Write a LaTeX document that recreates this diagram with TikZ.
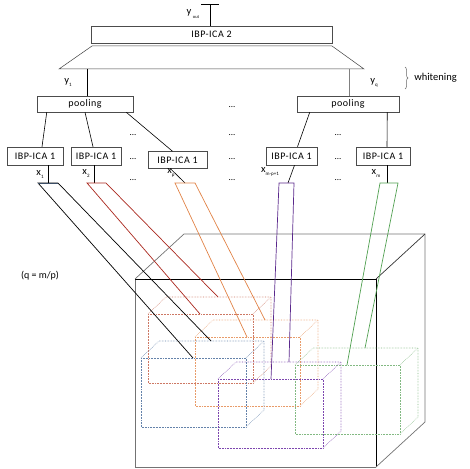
\documentclass[tikz,border=0pt]{standalone}
\usepackage{fontspec}
\setmainfont{Carlito}
\newfontfamily\lblfont[LetterSpace=5]{Carlito}
\usetikzlibrary{decorations.pathreplacing}
\newcommand{\mylab}[2]{#1\raisebox{-3pt}{\fontsize{5}{5}\selectfont #2}}
\definecolor{rbred}{RGB}{170,40,30}
\definecolor{rborange}{RGB}{225,130,70}
\definecolor{rbpurple}{RGB}{90,40,140}
\definecolor{rbgreen}{RGB}{80,160,80}
\definecolor{bxblue}{RGB}{100,130,170}
\definecolor{bxred}{RGB}{205,120,100}
\definecolor{bxorange}{RGB}{232,155,105}
\definecolor{bxpurple}{RGB}{125,70,175}
\definecolor{bxgreen}{RGB}{130,185,130}
\newcommand{\dotcub}[3]{%
 \draw[dotbox,#1] (#2,#3) rectangle ++(105,69);
 \draw[dotbox,#1] (#2,#3) -- ++(18,-17) -- ++(105,0) -- ++(0,69) -- ++(-18,17);
 \draw[dotbox,#1] (#2+105,#3) -- ++(18,-17);
}
\begin{document}
\begin{tikzpicture}[x=1pt,y=-1pt,line width=0.6pt,
 box/.style={draw=black!70,line width=0.5pt,inner sep=0pt,font=\lblfont\fontsize{10}{10}\selectfont},
 lab/.style={inner sep=0pt,font=\fontsize{10.5}{10}\selectfont},
 dots/.style={inner sep=0pt,font=\fontsize{9}{10}\selectfont},
 dotbox/.style={densely dotted,line width=0.55pt},
 rib/.style={line width=0.7pt},
 conn/.style={line width=0.6pt,black}]
\useasboundingbox (0,0) rectangle (470,468);
% big cube
\draw[black!55,line width=0.7pt] (135,279) -- (135,467) -- (376,467);
\draw[black,line width=0.7pt] (135,279) -- (376,279) -- (376,467);
\draw[black!55,line width=0.7pt] (135,279) -- (184,234) -- (425,234) -- (425,422) -- (376,467);
\draw[black!80,line width=0.7pt] (376,279) -- (425,234);
% dotted boxes
\dotcub{bxred}{148}{314}
\dotcub{bxorange}{195}{337}
\dotcub{bxblue}{141}{358}
\dotcub{bxgreen}{295}{365}
\dotcub{bxpurple}{218}{379}
% top
\node[box,minimum width=241pt,minimum height=17pt] (ica2) at (211.5,34.5) {IBP-ICA 2};
\coordinate (yout) at (210,4);
\draw[conn] (ica2.north -| yout) -- (yout);
\draw[conn] ([xshift=-9pt]yout) -- ([xshift=9pt]yout);
\node[lab] (ylab) at (189,13) {y};
\node[inner sep=0pt,font=\fontsize{4.5}{4.5}\selectfont] (ysub) at (196,17) {out};
\coordinate (t1) at (92,46);
\coordinate (t2) at (332,46);
\coordinate (t3) at (364,69);
\coordinate (t4) at (59,69);
\draw[black!75,line width=0.5pt] (t1) -- (t2) -- (t3) -- (t4) -- cycle;
% pooling
\node[box,minimum width=96pt,minimum height=16pt] (pool1) at (85,104) {pooling};
\node[box,minimum width=102pt,minimum height=16pt] (pool2) at (348,104) {pooling};
\draw[conn] (t4 -| pool1.north) ++(2,0) coordinate (a1) -- (a1 |- pool1.north);
\coordinate (a2) at (349,69);
\draw[black!50,line width=0.5pt] (a2) -- (a2 |- pool2.north);
\node[lab] (y1) at (68,82) {\mylab{y}{1}};
\node[lab] (yq) at (374,83) {\mylab{y}{q}};
\draw[black!60,line width=0.5pt,decorate,decoration={brace,amplitude=3pt}] (405,67) -- (405,89);
\node[inner sep=0pt,anchor=west,font=\fontsize{10.5}{11}\selectfont] (wh) at (414,78) {whitening};
% ICA 1 boxes
\node[box,minimum width=56pt,minimum height=18pt] (ia) at (35,156) {IBP-ICA 1};
\node[box,minimum width=50pt,minimum height=18pt] (ib) at (96,156) {IBP-ICA 1};
\node[box,minimum width=59pt,minimum height=17pt] (ic) at (177.5,160) {IBP-ICA 1};
\node[box,minimum width=51pt,minimum height=18pt] (id) at (291.5,156) {IBP-ICA 1};
\node[box,minimum width=54pt,minimum height=18pt] (ie) at (383,156) {IBP-ICA 1};
\draw[conn] ([xshift=10pt]pool1.south west) -- ([xshift=7pt]ia.north);
\draw[conn] (pool1.south) -- ([xshift=-3pt]ib.north);
\draw[conn] ([xshift=-7pt]pool1.south east) -- ([xshift=-5pt]ic.north);
\draw[conn] ([xshift=13pt]pool2.south west) -- ([xshift=6pt]id.north);
\draw[conn] ([xshift=-12pt]pool2.south east) -- ([xshift=4pt]ie.north);
% dots
\node[dots] (d0) at (232,107) {...};
\foreach \yy/\nm in {135/r,159/s,180/t}{
 \node[dots] (d1\nm) at (133,\yy) {...};
 \node[dots] (d2\nm) at (232,\yy) {...};
 \node[dots] (d3\nm) at (338,\yy) {...};
}
% x labels
\node[lab] (x1) at (40,174) {\mylab{x}{1}};
\node[lab] (x2) at (86,173) {\mylab{x}{2}};
\node[lab] (xp) at (171,173) {\mylab{x}{p}};
\node[lab] (xmp) at (270,172) {\mylab{x}{m-p+1}};
\node[lab] (xm) at (376,173) {\mylab{x}{m}};
\node[inner sep=0pt,font=\fontsize{10}{10}\selectfont] (qmp) at (40,276) {(q = m/p)};
% ribbon tops
\coordinate (r1L) at (38,183); \coordinate (r1R) at (58,183);
\coordinate (r2L) at (87,183); \coordinate (r2R) at (106,183);
\coordinate (r3L) at (175,183); \coordinate (r3R) at (195,183);
\coordinate (r4L) at (279,183); \coordinate (r4R) at (294,183);
\coordinate (r5L) at (380,183); \coordinate (r5R) at (398,183);
\coordinate (e1L) at (193,358); \coordinate (e1R) at (211,341);
\coordinate (e2L) at (200,314); \coordinate (e2R) at (218,297);
\coordinate (e3L) at (247,337); \coordinate (e3R) at (265,320);
\coordinate (e4L) at (271,379); \coordinate (e4R) at (289,362);
\coordinate (e5L) at (347,365); \coordinate (e5R) at (365,348);
\draw[conn] ([xshift=13pt]ia.south) -- ([xshift=13pt]ia.south |- r1L);
\draw[conn] ([xshift=-2pt]ib.south) -- ([xshift=-2pt]ib.south |- r2L);
\draw[conn] ([xshift=-7pt]ic.south) -- (185,183);
\draw[conn] ([xshift=3pt]id.south) -- (288,183);
\draw[conn] ([xshift=4pt]ie.south) -- ([xshift=4pt]ie.south |- r5L);
\draw[rib,black] (e1L) -- (r1L) -- (r1R) -- (e1R);
\draw[rib,black!40!bxblue] (r1L) -- (r1R);
\draw[rib,rbred] (e2L) -- (r2L) -- (r2R) -- (e2R);
\draw[rib,rborange] (e3L) -- (r3L) -- (r3R) -- (e3R);
\draw[rib,rbpurple] (e4L) -- (r4L) -- (r4R) -- (e4R);
\draw[rib,rbgreen] (e5L) -- (r5L) -- (r5R) -- (e5R);
\end{tikzpicture}
\end{document}
